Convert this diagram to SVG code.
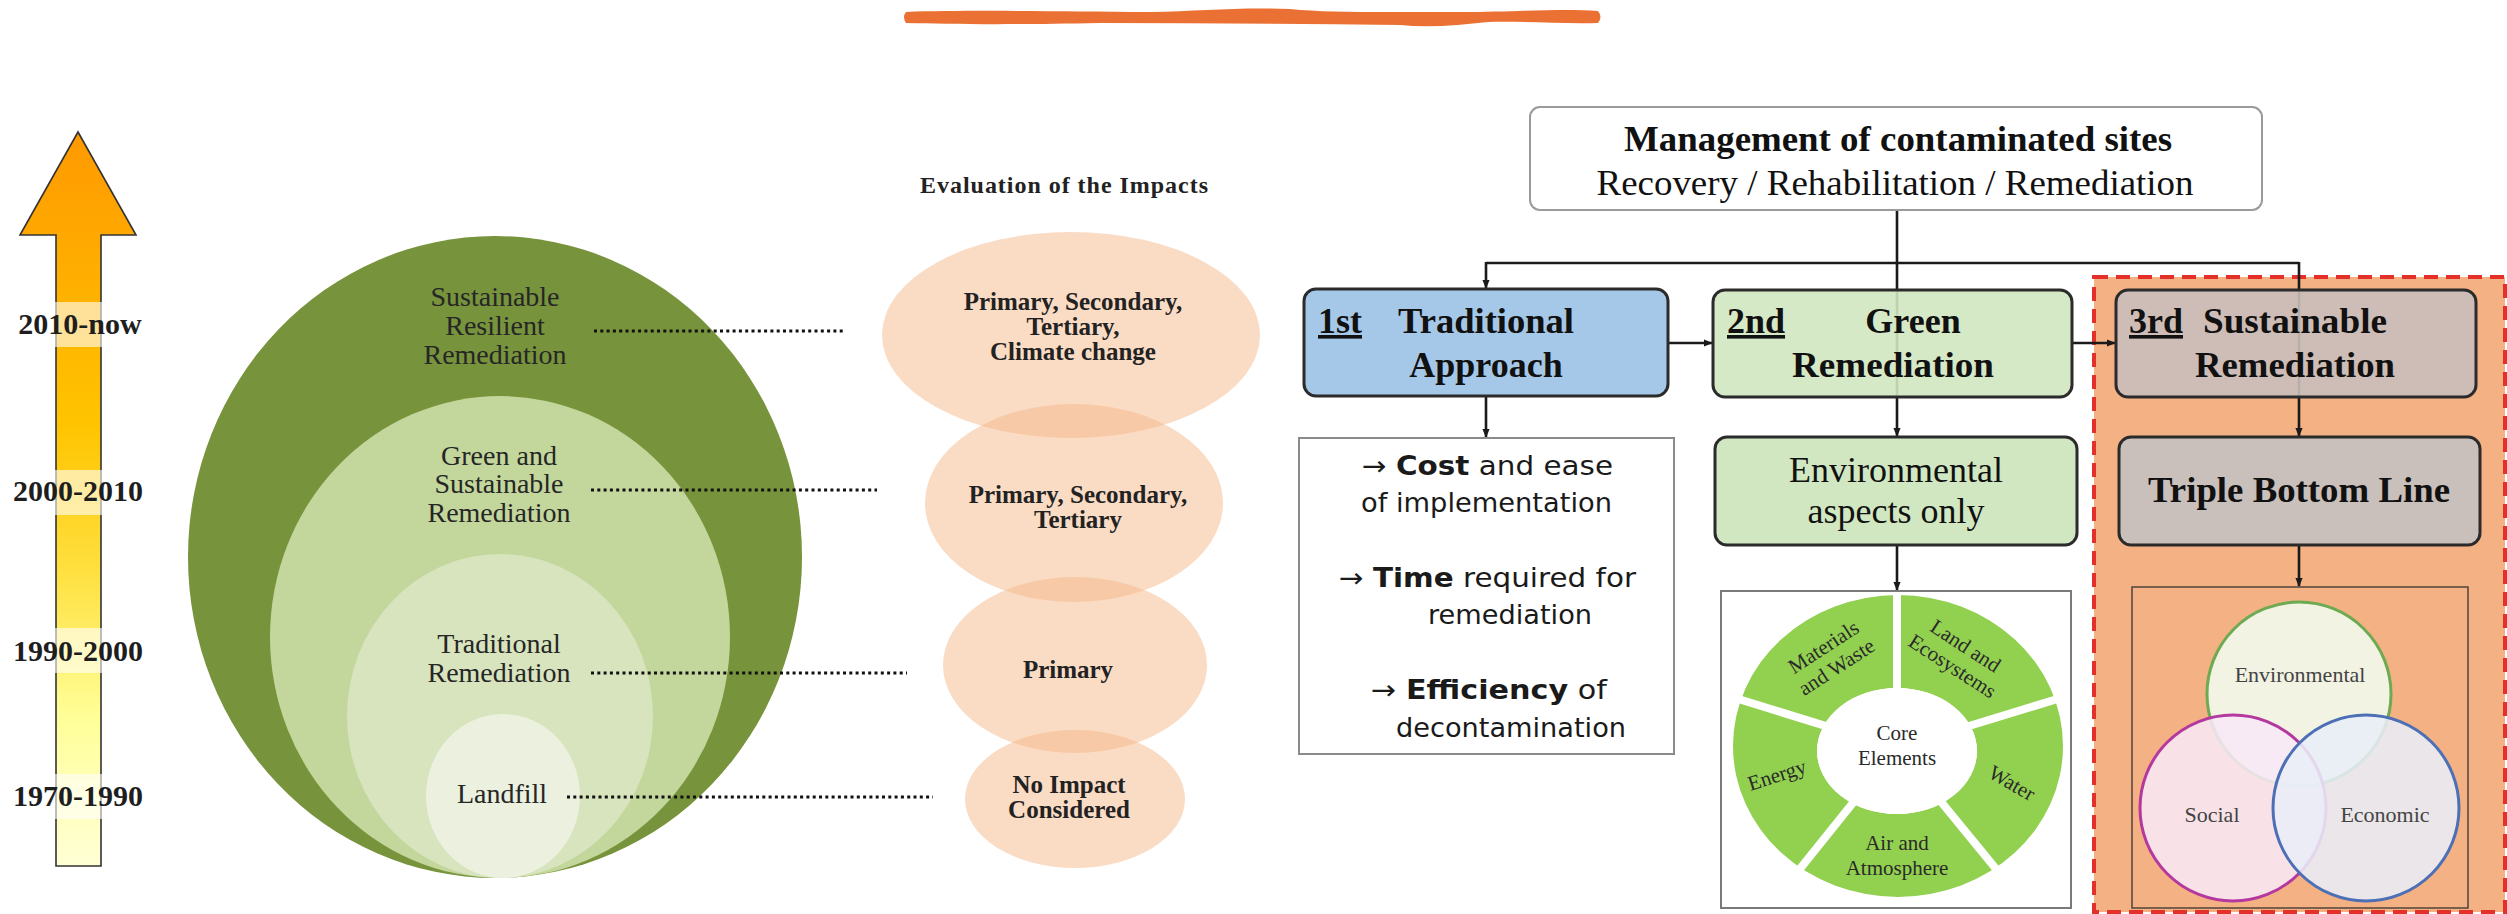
<svg xmlns="http://www.w3.org/2000/svg" width="2507" height="914" viewBox="0 0 2507 914">
<defs>
<linearGradient id="gArrow" x1="0" y1="131" x2="0" y2="866" gradientUnits="userSpaceOnUse">
<stop offset="0" stop-color="#FF9900"/>
<stop offset="0.4" stop-color="#FFC400"/>
<stop offset="0.6" stop-color="#FFE040"/>
<stop offset="0.8" stop-color="#FFFF99"/>
<stop offset="1" stop-color="#FFFFD6"/>
</linearGradient>
<marker id="ah" viewBox="0 0 10 10" refX="9" refY="5" markerWidth="9" markerHeight="9" markerUnits="userSpaceOnUse" orient="auto">
<path d="M0,1 L10,5 L0,9 Z" fill="#1a1a1a"/>
</marker>
<style>
.serif{font-family:"Liberation Serif","Times New Roman",serif;}
.sans{font-family:"DejaVu Sans","Liberation Sans",sans-serif;}
.yr{font-family:"Liberation Serif",serif;font-weight:bold;font-size:30px;fill:#1e1e1e;text-anchor:middle;}
.yrbg{fill:#ffffff;fill-opacity:0.6;}
.gt{font-family:"Liberation Serif",serif;font-size:28px;fill:#262626;text-anchor:middle;}
.dot{stroke:#111;stroke-width:3;stroke-dasharray:3 3.3;fill:none;}
.peach{fill:#F6B88A;fill-opacity:0.5;}
.pt{font-family:"Liberation Serif",serif;font-weight:bold;font-size:25px;fill:#222;text-anchor:middle;}
.box{stroke:#2b2b2b;stroke-width:3;}
.bt{font-family:"Liberation Serif",serif;font-weight:bold;font-size:36px;fill:#111;}
.ul{text-decoration:underline;}
.conn{stroke:#1a1a1a;stroke-width:2.6;fill:none;}
.tx{font-family:"DejaVu Sans","Liberation Sans",sans-serif;font-size:27px;fill:#1a1a1a;}
.wl{font-family:"Liberation Serif",serif;font-size:21px;fill:#2a2a2a;text-anchor:middle;}
.vl{font-family:"Liberation Serif",serif;font-size:22px;fill:#444;text-anchor:middle;}
</style>
</defs>
<rect x="0" y="0" width="2507" height="914" fill="#ffffff"/>

<!-- orange brush stroke -->
<path id="brush" d="M906 12 C960 10 1050 11 1150 12 C1200 11 1240 7 1290 9 C1330 13 1380 12 1460 12 C1520 12 1560 8 1598 11 Q1603 17 1598 23 C1560 24 1520 21 1488 22 C1460 25 1430 28 1400 25 C1300 24 1200 23 1100 23 C1000 25 950 24 906 23 Q902 17 906 12 Z" fill="#EA7133"/>

<!-- time arrow -->
<g id="timeline">
<polygon points="78,132 136,235 101,235 101,866 56,866 56,235 20,235" fill="url(#gArrow)" stroke="#333" stroke-width="1.6"/>
<rect class="yrbg" x="20" y="302" width="126" height="45"/>
<rect class="yrbg" x="12" y="470" width="134" height="45"/>
<rect class="yrbg" x="12" y="628" width="134" height="45"/>
<rect class="yrbg" x="11" y="774" width="138" height="45"/>
<text class="yr" x="80" y="334">2010-now</text>
<text class="yr" x="78" y="501">2000-2010</text>
<text class="yr" x="78" y="661">1990-2000</text>
<text class="yr" x="78" y="806">1970-1990</text>
</g>

<!-- nested ellipses -->
<g id="ell-ssr">
<ellipse cx="495" cy="557" rx="307" ry="321" fill="#77933C"/>
<text class="gt" x="495" y="306">Sustainable</text>
<text class="gt" x="495" y="335">Resilient</text>
<text class="gt" x="495" y="364">Remediation</text>
</g>
<g id="ell-gsr">
<ellipse cx="500" cy="637" rx="230" ry="241" fill="#C3D69B"/>
<text class="gt" x="499" y="465">Green and</text>
<text class="gt" x="499" y="493">Sustainable</text>
<text class="gt" x="499" y="522">Remediation</text>
</g>
<g id="ell-tr">
<ellipse cx="500" cy="716" rx="153" ry="162" fill="#D7E4BD"/>
<text class="gt" x="499" y="653">Traditional</text>
<text class="gt" x="499" y="682">Remediation</text>
</g>
<g id="ell-lf">
<ellipse cx="503" cy="796" rx="77" ry="82" fill="#EBF1DE"/>
<text class="gt" x="502" y="803">Landfill</text>
</g>

<!-- evaluation of impacts -->
<text id="eval-title" class="serif" x="1064" y="193" font-size="24" font-weight="bold" fill="#222" text-anchor="middle" textLength="288" lengthAdjust="spacing">Evaluation of the Impacts</text>
<g id="imp1">
<ellipse class="peach" cx="1071" cy="335" rx="189" ry="103"/>
<text class="pt" x="1073" y="310">Primary, Secondary,</text>
<text class="pt" x="1073" y="335">Tertiary,</text>
<text class="pt" x="1073" y="360">Climate change</text>
</g>
<g id="imp2">
<ellipse class="peach" cx="1074" cy="503" rx="149" ry="99"/>
<text class="pt" x="1078" y="503">Primary, Secondary,</text>
<text class="pt" x="1078" y="528">Tertiary</text>
</g>
<g id="imp3">
<ellipse class="peach" cx="1075" cy="665" rx="132" ry="88"/>
<text class="pt" x="1068" y="678">Primary</text>
</g>
<g id="imp4">
<ellipse class="peach" cx="1075" cy="799" rx="110" ry="69"/>
<text class="pt" x="1069" y="793">No Impact</text>
<text class="pt" x="1069" y="818">Considered</text>
</g>

<!-- dotted leaders -->
<g id="leaders">
<line class="dot" x1="594" y1="331" x2="844" y2="331"/>
<line class="dot" x1="591" y1="490" x2="877" y2="490"/>
<line class="dot" x1="591" y1="673" x2="907" y2="673"/>
<line class="dot" x1="567" y1="797" x2="933" y2="797"/>
</g>

<!-- third approach highlight region -->
<rect id="region3" x="2094" y="277" width="411" height="635" fill="#F4B183" stroke="#E3302B" stroke-width="4" stroke-dasharray="14 8"/>

<!-- connectors -->
<g id="connectors">
<line class="conn" x1="1897" y1="210" x2="1897" y2="436" marker-end="url(#ah)"/>
<polyline class="conn" points="1486,263 2299,263"/>
<line class="conn" x1="1486" y1="262" x2="1486" y2="288" marker-end="url(#ah)"/>
<line class="conn" x1="2299" y1="262" x2="2299" y2="436" marker-end="url(#ah)"/>
<line class="conn" x1="1668" y1="343" x2="1712" y2="343" marker-end="url(#ah)"/>
<line class="conn" x1="2072" y1="343" x2="2115" y2="343" marker-end="url(#ah)"/>
<line class="conn" x1="1486" y1="396" x2="1486" y2="437" marker-end="url(#ah)"/>
<line class="conn" x1="1897" y1="545" x2="1897" y2="590" marker-end="url(#ah)"/>
<line class="conn" x1="2299" y1="545" x2="2299" y2="586" marker-end="url(#ah)"/>
</g>

<!-- management box -->
<g id="mgmt">
<rect x="1530" y="107" width="732" height="103" rx="10" fill="#ffffff" stroke="#9a9a9a" stroke-width="2"/>
<text class="bt" x="1898" y="151" font-size="36" text-anchor="middle" textLength="548" lengthAdjust="spacingAndGlyphs">Management of contaminated sites</text>
<text class="serif" x="1895" y="195" font-size="36" fill="#111" text-anchor="middle" textLength="597" lengthAdjust="spacingAndGlyphs">Recovery / Rehabilitation / Remediation</text>
</g>

<!-- 1st -->
<g id="box1">
<rect class="box" x="1304" y="289" width="364" height="107" rx="12" fill="#9DC3E6" fill-opacity="0.92"/>
<text class="bt ul" x="1318" y="333">1st</text>
<text class="bt" x="1398" y="333" textLength="176" lengthAdjust="spacingAndGlyphs">Traditional</text>
<text class="bt" x="1486" y="377" text-anchor="middle">Approach</text>
</g>

<!-- 2nd -->
<g id="box2">
<rect class="box" x="1713" y="290" width="359" height="107" rx="12" fill="#D1E7C1" fill-opacity="0.9"/>
<text class="bt ul" x="1727" y="333">2nd</text>
<text class="bt" x="1913" y="333" text-anchor="middle">Green</text>
<text class="bt" x="1893" y="377" text-anchor="middle" textLength="202" lengthAdjust="spacingAndGlyphs">Remediation</text>
</g>

<!-- 3rd -->
<g id="box3">
<rect class="box" x="2116" y="290" width="360" height="107" rx="12" fill="#C9BFBB" fill-opacity="0.9"/>
<text class="bt ul" x="2129" y="333">3rd</text>
<text class="bt" x="2203" y="333" textLength="184" lengthAdjust="spacingAndGlyphs">Sustainable</text>
<text class="bt" x="2295" y="377" text-anchor="middle" textLength="200" lengthAdjust="spacingAndGlyphs">Remediation</text>
</g>

<!-- traditional criteria -->
<g id="criteria">
<rect x="1299" y="438" width="375" height="316" fill="#ffffff" stroke="#8a8a8a" stroke-width="2"/>
<text class="tx" x="1362" y="475" textLength="251" lengthAdjust="spacingAndGlyphs">→ <tspan font-weight="bold">Cost</tspan> and ease</text>
<text class="tx" x="1361" y="512" textLength="251" lengthAdjust="spacingAndGlyphs">of implementation</text>
<text class="tx" x="1339" y="587" textLength="297" lengthAdjust="spacingAndGlyphs">→ <tspan font-weight="bold">Time</tspan> required for</text>
<text class="tx" x="1428" y="624" textLength="164" lengthAdjust="spacingAndGlyphs">remediation</text>
<text class="tx" x="1371" y="699" textLength="236" lengthAdjust="spacingAndGlyphs">→ <tspan font-weight="bold">Efficiency</tspan> of</text>
<text class="tx" x="1396" y="737" textLength="230" lengthAdjust="spacingAndGlyphs">decontamination</text>
</g>

<!-- environmental aspects -->
<g id="envbox">
<rect class="box" x="1715" y="437" width="362" height="108" rx="12" fill="#D1E7C1"/>
<text class="serif" x="1896" y="482" font-size="36" fill="#111" text-anchor="middle">Environmental</text>
<text class="serif" x="1896" y="523" font-size="36" fill="#111" text-anchor="middle">aspects only</text>
</g>

<!-- core elements wheel -->
<g id="wheel">
<rect x="1721" y="591" width="350" height="317" fill="#ffffff" stroke="#7a7a7a" stroke-width="2"/>
<path d="M1733 746 a165 151 0 1 0 330 0 a165 151 0 1 0 -330 0 Z M1817 751 a80 63 0 1 0 160 0 a80 63 0 1 0 -160 0 Z" fill="#92D050" fill-rule="evenodd"/>
<g stroke="#ffffff" stroke-width="8">
<line x1="1897" y1="748" x2="1897" y2="594"/>
<line x1="1897" y1="748" x2="2064" y2="697"/>
<line x1="1897" y1="748" x2="2001" y2="875"/>
<line x1="1897" y1="748" x2="1795" y2="875"/>
<line x1="1897" y1="748" x2="1732" y2="697"/>
</g>
<ellipse cx="1897" cy="751" rx="80" ry="63" fill="#ffffff"/>
<g transform="translate(1830,657) rotate(-33)">
<text class="wl" x="0" y="-5">Materials</text>
<text class="wl" x="0" y="19">and Waste</text>
</g>
<g transform="translate(1959,656) rotate(33)">
<text class="wl" x="0" y="-5">Land and</text>
<text class="wl" x="0" y="19">Ecosystems</text>
</g>
<text class="wl" transform="translate(2012,783) rotate(30)" x="0" y="7">Water</text>
<text class="wl" transform="translate(1777,775) rotate(-18)" x="0" y="7">Energy</text>
<text class="wl" x="1897" y="850">Air and</text>
<text class="wl" x="1897" y="875">Atmosphere</text>
<text class="wl" x="1897" y="740" fill="#555">Core</text>
<text class="wl" x="1897" y="765" fill="#555">Elements</text>
</g>

<!-- triple bottom line -->
<g id="tbl">
<rect class="box" x="2119" y="437" width="361" height="108" rx="12" fill="#C9BFBB"/>
<text class="bt" x="2299" y="502" text-anchor="middle" textLength="302" lengthAdjust="spacingAndGlyphs">Triple Bottom Line</text>
</g>

<!-- venn -->
<g id="venn">
<rect x="2132" y="587" width="336" height="321" fill="none" stroke="#5a4a40" stroke-width="1.6"/>
<circle cx="2299" cy="694" r="92" fill="#F1F8EC" fill-opacity="0.92" stroke="#6DAA52" stroke-width="3"/>
<circle cx="2233" cy="808" r="93" fill="#F8E8F6" fill-opacity="0.88" stroke="#B4399F" stroke-width="3"/>
<circle cx="2366" cy="808" r="93" fill="#E8EDF7" fill-opacity="0.88" stroke="#4C6FB6" stroke-width="3"/>
<text class="vl" x="2300" y="682">Environmental</text>
<text class="vl" x="2212" y="822">Social</text>
<text class="vl" x="2385" y="822">Economic</text>
</g>
</svg>
